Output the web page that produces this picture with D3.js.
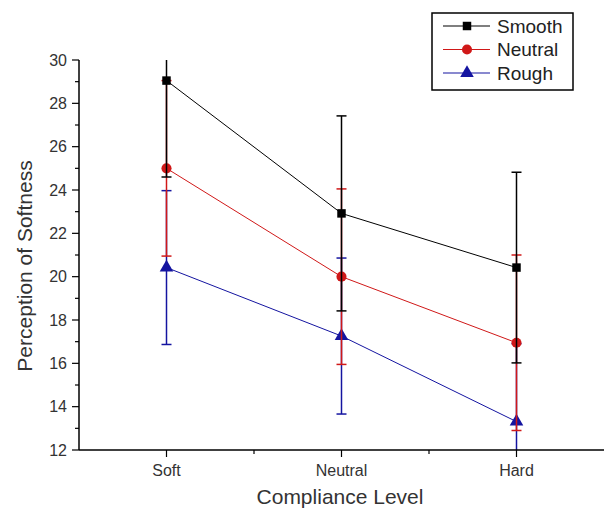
<!DOCTYPE html>
<html>
<head>
<meta charset="utf-8">
<script src="https://cdn.jsdelivr.net/npm/d3@7"></script>
<style>
  html, body { margin: 0; padding: 0; background: #fff; }
  text { font-family: "Liberation Sans", Arial, sans-serif; }
</style>
</head>
<body>
<div id="chart"></div>
<script>
// values
const categories = ['Soft', 'Neutral', 'Hard'];
const seriesNames = ['Smooth', 'Neutral', 'Rough'];
const smoothMean = [29.05, 22.92, 20.42];
const smoothErr = [4.45, 4.5, 4.4];
const neutralMean = [25.0, 20.0, 16.95];
const neutralErr = [4.05, 4.05, 4.05];
const roughMean = [20.42, 17.26, 13.31];
const roughErr = [3.55, 3.6, 3.6];
const yTicks = [12, 14, 16, 18, 20, 22, 24, 26, 28, 30];

const w = 604, h = 510;
const svg = d3.select('#chart').append('svg')
  .attr('width', w).attr('height', h);

const x = d3.scaleLinear().domain([0.5, 3.5]).range([79, 604]);
const y = d3.scaleLinear().domain([12, 30]).range([450, 60]);

// clip to the plot frame
svg.append('clipPath').attr('id', 'plotclip')
  .append('rect')
  .attr('x', x(0.5)).attr('y', y(30))
  .attr('width', x(3.5) - x(0.5)).attr('height', y(12) - y(30));

const series = [
  { name: 'Rough', mean: roughMean, err: roughErr, color: '#1414a0', marker: d3.symbolTriangle, size: 80 },
  { name: 'Neutral', mean: neutralMean, err: neutralErr, color: '#d01818', marker: d3.symbolCircle, size: 80 },
  { name: 'Smooth', mean: smoothMean, err: smoothErr, color: '#000000', marker: d3.symbolSquare, size: 72 }
];

const plot = svg.append('g').attr('clip-path', 'url(#plotclip)');

series.forEach(s => {
  const g = plot.append('g');
  const pts = categories.map((c, i) => ({ i: i + 1, v: s.mean[i], e: s.err[i] }));
  // error bars
  pts.forEach(p => {
    g.append('line')
      .attr('x1', x(p.i)).attr('x2', x(p.i))
      .attr('y1', y(p.v - p.e)).attr('y2', y(p.v + p.e))
      .attr('stroke', s.color).attr('stroke-width', 1.5);
    [p.v - p.e, p.v + p.e].forEach(v => {
      g.append('line')
        .attr('x1', x(p.i) - 5).attr('x2', x(p.i) + 5)
        .attr('y1', y(v)).attr('y2', y(v))
        .attr('stroke', s.color).attr('stroke-width', 1.5);
    });
  });
  // connecting line
  g.append('path')
    .datum(pts)
    .attr('d', d3.line().x(d => x(d.i)).y(d => y(d.v)))
    .attr('fill', 'none')
    .attr('stroke', s.color)
    .attr('stroke-width', 1);
  // markers
  g.selectAll('path.mk')
    .data(pts)
    .enter()
    .append('path')
    .attr('class', 'mk')
    .attr('d', d3.symbol().type(s.marker).size(s.size))
    .attr('transform', d => 'translate(' + x(d.i) + ',' + y(d.v) + ')')
    .attr('fill', s.color);
});

// y axis
const yMinor = d3.range(13, 30, 2);
const yAxis = svg.append('g').attr('transform', 'translate(' + x(0.5) + ',0)');
yAxis.append('line').attr('x1', 0).attr('x2', 0).attr('y1', y(30)).attr('y2', y(12))
  .attr('stroke', '#000').attr('stroke-width', 1.5);
yAxis.selectAll('line.maj').data(yTicks).enter().append('line')
  .attr('x1', -7).attr('x2', 0).attr('y1', d => y(d)).attr('y2', d => y(d))
  .attr('stroke', '#000').attr('stroke-width', 1.2);
yAxis.selectAll('line.min').data(yMinor).enter().append('line')
  .attr('x1', -4).attr('x2', 0).attr('y1', d => y(d)).attr('y2', d => y(d))
  .attr('stroke', '#000').attr('stroke-width', 1.2);
yAxis.selectAll('text').data(yTicks).enter().append('text')
  .attr('x', -12).attr('y', d => y(d)).attr('dy', '0.36em')
  .attr('text-anchor', 'end').attr('font-size', 16).attr('fill', '#333')
  .text(d => d);

// x axis
const xAxis = svg.append('g').attr('transform', 'translate(0,' + y(12) + ')');
xAxis.append('line').attr('x1', x(0.5)).attr('x2', x(3.5)).attr('y1', 0).attr('y2', 0)
  .attr('stroke', '#000').attr('stroke-width', 1.5);
xAxis.selectAll('line.maj').data([1, 2, 3]).enter().append('line')
  .attr('x1', d => x(d)).attr('x2', d => x(d)).attr('y1', 0).attr('y2', 7)
  .attr('stroke', '#000').attr('stroke-width', 1.2);
xAxis.selectAll('line.min').data([1.5, 2.5]).enter().append('line')
  .attr('x1', d => x(d)).attr('x2', d => x(d)).attr('y1', 0).attr('y2', 4)
  .attr('stroke', '#000').attr('stroke-width', 1.2);
xAxis.selectAll('text').data(categories).enter().append('text')
  .attr('x', (d, i) => x(i + 1)).attr('y', 26)
  .attr('text-anchor', 'middle').attr('font-size', 16).attr('fill', '#333')
  .text(d => d);

// axis titles
svg.append('text')
  .attr('x', 340).attr('y', 504)
  .attr('text-anchor', 'middle').attr('font-size', 21).attr('fill', '#333')
  .text('Compliance Level');
svg.append('text')
  .attr('transform', 'translate(32,266) rotate(-90)')
  .attr('text-anchor', 'middle').attr('font-size', 21).attr('fill', '#333')
  .text('Perception of Softness');

// legend
const legend = svg.append('g');
legend.append('rect')
  .attr('x', 432).attr('y', 13).attr('width', 141).attr('height', 77)
  .attr('fill', '#fff').attr('stroke', '#000').attr('stroke-width', 1.5);
const legendRows = seriesNames.map(n => series.find(s => s.name === n));
legendRows.forEach((s, i) => {
  const ly = 26 + i * 23.5;
  legend.append('line')
    .attr('x1', 443).attr('x2', 490).attr('y1', ly).attr('y2', ly)
    .attr('stroke', s.color).attr('stroke-width', 1.2);
  legend.append('path')
    .attr('d', d3.symbol().type(s.marker).size(s.size))
    .attr('transform', 'translate(467,' + ly + ')')
    .attr('fill', s.color);
  legend.append('text')
    .attr('x', 497).attr('y', ly).attr('dy', '0.36em')
    .attr('font-size', 19).attr('fill', '#222')
    .text(s.name);
});
</script>
</body>
</html>
